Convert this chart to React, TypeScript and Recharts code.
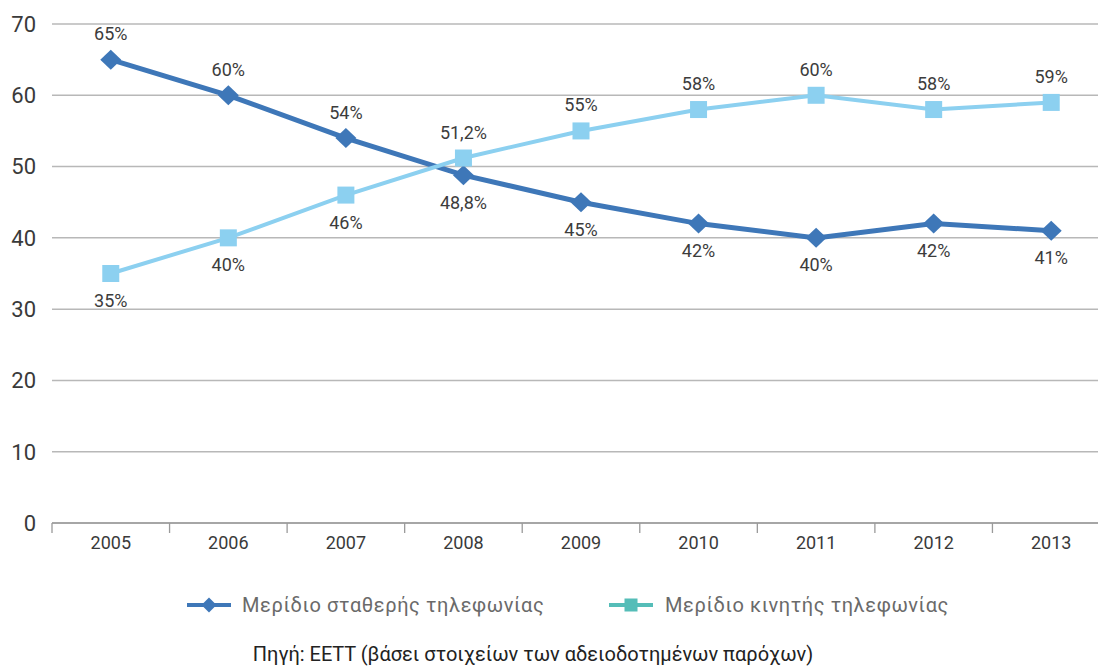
import React from 'react';
import { LineChart, Line, XAxis, YAxis, CartesianGrid } from 'recharts';

const years = ['2005', '2006', '2007', '2008', '2009', '2010', '2011', '2012', '2013'];
const fixedShare = [65, 60, 54, 48.8, 45, 42, 40, 42, 41];
const mobileShare = [35, 40, 46, 51.2, 55, 58, 60, 58, 59];
const yTicks = [0, 10, 20, 30, 40, 50, 60, 70];
const seriesNames = ['Μερίδιο σταθερής τηλεφωνίας', 'Μερίδιο κινητής τηλεφωνίας'];
const sourceText = 'Πηγή: ΕΕΤΤ (βάσει στοιχείων των αδειοδοτημένων παρόχων)';

const data = years.map((year, i) => ({ year, fixed: fixedShare[i], mobile: mobileShare[i] }));

const FIXED_COLOR = '#3E77B8';
const MOBILE_COLOR = '#8CD0F0';
const MOBILE_LEGEND_COLOR = '#55BDB8';
const FONT = 'Roboto, "DejaVu Sans", sans-serif';

const fmt = (v: number) => String(v).replace('.', ',') + '%';

const makeLabel = (own: number[], other: number[]) => (props: any) => {
  const { x, y, index, value } = props;
  const above = own[index] > other[index];
  const dy = above ? -26 : 27;
  return (
    <text
      x={x}
      y={y + dy}
      textAnchor="middle"
      dominantBaseline="central"
      fontFamily={FONT}
      fontSize={18}
      fill="#3c3c3c"
    >
      {fmt(value)}
    </text>
  );
};

const DiamondDot = (props: any) => {
  const { cx, cy } = props;
  if (cx == null || cy == null) return null;
  const w = 10.5, h = 10;
  return (
    <polygon
      points={`${cx},${cy - h} ${cx + w},${cy} ${cx},${cy + h} ${cx - w},${cy}`}
      fill={FIXED_COLOR}
    />
  );
};

const SquareDot = (props: any) => {
  const { cx, cy } = props;
  if (cx == null || cy == null) return null;
  const s = 17;
  return <rect x={cx - s / 2} y={cy - s / 2} width={s} height={s} fill={MOBILE_COLOR} />;
};

const XTick = (props: any) => {
  const { x, y, payload, index, visibleTicksCount } = props;
  const off = payload.offset || 0;
  const last = index === (visibleTicksCount ?? years.length) - 1;
  return (
    <g>
      <line x1={x - off} x2={x - off} y1={y} y2={y + 10} stroke="#9a9a9a" strokeWidth={1.3} />
      {last && <line x1={x + off} x2={x + off} y1={y} y2={y + 10} stroke="#9a9a9a" strokeWidth={1.3} />}
      <text
        x={x}
        y={y + 19}
        textAnchor="middle"
        dominantBaseline="central"
        fontFamily={FONT}
        fontSize={18}
        fill="#3a3a3a"
      >
        {payload.value}
      </text>
    </g>
  );
};

const LegendIcon = ({ color, shape }: { color: string; shape: 'diamond' | 'square' }) => (
  <svg width={44} height={20} style={{ display: 'block' }}>
    <line x1={0} x2={44} y1={10} y2={10} stroke={color} strokeWidth={4} />
    {shape === 'diamond' ? (
      <polygon points="22,2.5 29.5,10 22,17.5 14.5,10" fill={color} />
    ) : (
      <rect x={15.5} y={3.5} width={13} height={13} fill={color} />
    )}
  </svg>
);

export default function App() {
  return (
    <div
      style={{
        position: 'absolute',
        left: 0,
        top: 0,
        width: 1098,
        height: 666,
        overflow: 'hidden',
        background: '#fff',
      }}
    >
      <LineChart
        width={1112}
        height={560}
        data={data}
        margin={{ top: 24, right: 2, left: 0, bottom: 0 }}
      >
        <CartesianGrid vertical={false} stroke="#b8b8b8" strokeWidth={1.5} />
        <XAxis
          dataKey="year"
          scale="band"
          height={37}
          tickLine={false}
          tickSize={0}
          tickMargin={0}
          axisLine={{ stroke: '#9a9a9a', strokeWidth: 1.5 }}
          tick={<XTick />}
          interval={0}
        />
        <YAxis
          width={52}
          domain={[0, 70]}
          ticks={yTicks}
          axisLine={false}
          tickLine={false}
          tickSize={0}
          tickMargin={16}
          tick={{ fontFamily: FONT, fontSize: 22, fill: '#3a3a3a' }}
        />
        <Line
          dataKey="fixed"
          name={seriesNames[0]}
          stroke={FIXED_COLOR}
          strokeWidth={5}
          dot={<DiamondDot />}
          activeDot={false}
          label={makeLabel(fixedShare, mobileShare)}
          isAnimationActive={false}
        />
        <Line
          dataKey="mobile"
          name={seriesNames[1]}
          stroke={MOBILE_COLOR}
          strokeWidth={4}
          dot={<SquareDot />}
          activeDot={false}
          label={makeLabel(mobileShare, fixedShare)}
          isAnimationActive={false}
        />
      </LineChart>
      <div
        style={{
          position: 'absolute',
          left: 187,
          top: 593,
          display: 'flex',
          alignItems: 'center',
          fontFamily: FONT,
          fontSize: 20,
          color: '#6a6a6a',
          whiteSpace: 'nowrap',
        }}
      >
        <LegendIcon color={FIXED_COLOR} shape="diamond" />
        <span style={{ marginLeft: 11, letterSpacing: 0.6 }}>{seriesNames[0]}</span>
      </div>
      <div
        style={{
          position: 'absolute',
          left: 609,
          top: 593,
          display: 'flex',
          alignItems: 'center',
          fontFamily: FONT,
          fontSize: 20,
          color: '#6a6a6a',
          whiteSpace: 'nowrap',
        }}
      >
        <LegendIcon color={MOBILE_LEGEND_COLOR} shape="square" />
        <span style={{ marginLeft: 12, letterSpacing: 0.6 }}>{seriesNames[1]}</span>
      </div>
      <div
        style={{
          position: 'absolute',
          left: 0,
          width: 1066,
          top: 642,
          textAlign: 'center',
          fontFamily: FONT,
          fontSize: 20,
          color: '#222',
          whiteSpace: 'nowrap',
        }}
      >
        {sourceText}
      </div>
    </div>
  );
}
